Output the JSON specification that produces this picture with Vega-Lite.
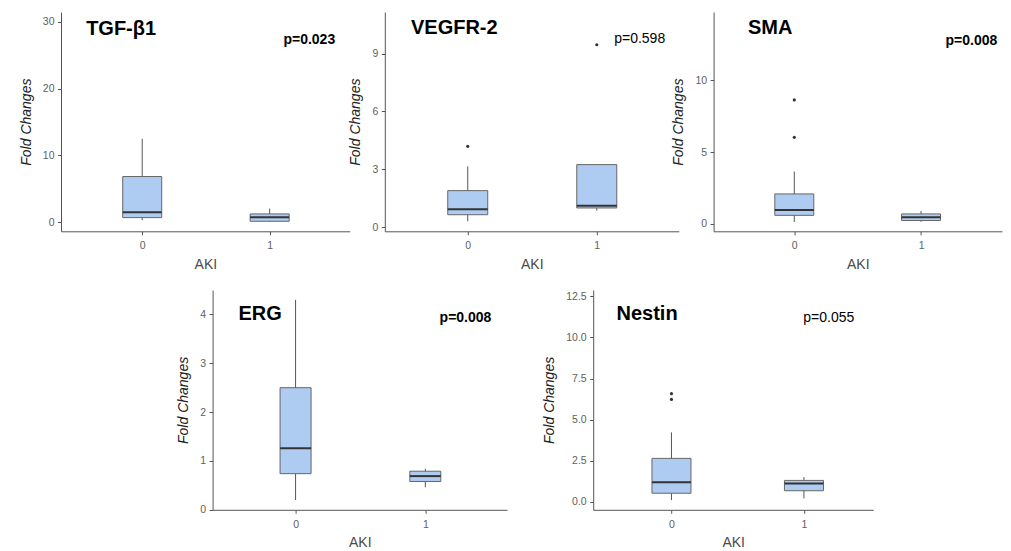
{
  "$schema": "https://vega.github.io/schema/vega-lite/v6.json",
  "autosize": {"type": "pad"},
  "padding": {"left": 19, "top": 12, "right": 5, "bottom": 2},
  "background": "white",
  "spacing": 18,
  "datasets": {
    "stats": [
      {"gene": "TGF-β1", "AKI": 0, "lower": 0.3, "q1": 0.7, "median": 1.5, "q3": 6.85, "upper": 12.5},
      {"gene": "TGF-β1", "AKI": 1, "lower": 0.05, "q1": 0.15, "median": 0.75, "q3": 1.25, "upper": 2.05},
      {"gene": "VEGFR-2", "AKI": 0, "lower": 0.3, "q1": 0.64, "median": 0.92, "q3": 1.89, "upper": 3.15},
      {"gene": "VEGFR-2", "AKI": 1, "lower": 0.85, "q1": 0.99, "median": 1.11, "q3": 3.24, "upper": 3.24},
      {"gene": "SMA", "AKI": 0, "lower": 0.14, "q1": 0.6, "median": 0.97, "q3": 2.09, "upper": 3.65},
      {"gene": "SMA", "AKI": 1, "lower": 0.15, "q1": 0.24, "median": 0.47, "q3": 0.7, "upper": 0.9},
      {"gene": "ERG", "AKI": 0, "lower": 0.2, "q1": 0.74, "median": 1.26, "q3": 2.5, "upper": 4.3},
      {"gene": "ERG", "AKI": 1, "lower": 0.46, "q1": 0.58, "median": 0.69, "q3": 0.79, "upper": 0.84},
      {"gene": "Nestin", "AKI": 0, "lower": 0.1, "q1": 0.52, "median": 1.19, "q3": 2.64, "upper": 4.22},
      {"gene": "Nestin", "AKI": 1, "lower": 0.2, "q1": 0.67, "median": 1.11, "q3": 1.3, "upper": 1.5}
    ],
    "outliers": [
      {"gene": "VEGFR-2", "AKI": 0, "value": 4.19},
      {"gene": "VEGFR-2", "AKI": 1, "value": 9.46},
      {"gene": "SMA", "AKI": 0, "value": 6.03},
      {"gene": "SMA", "AKI": 0, "value": 8.63},
      {"gene": "Nestin", "AKI": 0, "value": 6.23},
      {"gene": "Nestin", "AKI": 0, "value": 6.58}
    ],
    "labels": [
      {"gene": "TGF-β1", "p": "p=0.023"},
      {"gene": "VEGFR-2", "p": "p=0.598"},
      {"gene": "SMA", "p": "p=0.008"},
      {"gene": "ERG", "p": "p=0.008"},
      {"gene": "Nestin", "p": "p=0.055"}
    ]
  },
  "config": {
    "view": {"stroke": null},
    "font": "Liberation Sans",
    "axis": {
      "grid": false,
      "domainColor": "#555555",
      "tickColor": "#555555",
      "tickSize": 3.5,
      "labelFont": "Liberation Sans",
      "labelFontSize": 10.5,
      "labelColor": "#606060",
      "titleFont": "Liberation Sans",
      "titleFontSize": 14,
      "titleFontWeight": "normal"
    },
    "axisY": {"titleFontStyle": "italic", "titleColor": "#222222", "titlePadding": 9, "labelPadding": 3.5},
    "axisX": {"titleColor": "#4a4a4a", "titlePadding": 6, "labelPadding": 6}
  },
  "vconcat": [
    {
      "bounds": "flush",
      "spacing": 34.8,
      "hconcat": [
        {
          "width": 288.7, "height": 219.3,
          "layer": [
            {"data": {"name": "stats"}, "transform": [{"filter": "datum.gene === 'TGF-β1'"}],
             "mark": {"type": "rule", "color": "#555555"},
             "encoding": {
               "x": {"field": "AKI", "type": "quantitative", "scale": {"domain": [-0.598, 1.589], "nice": false, "zero": false}, "axis": {"values": [0, 1], "format": "d", "title": "AKI"}},
               "y": {"field": "lower", "type": "quantitative", "scale": {"domain": [-1.35, 31.48], "nice": false, "zero": false}, "axis": {"values": [0, 10, 20, 30], "title": "Fold Changes"}},
               "y2": {"field": "upper"}}},
            {"data": {"name": "stats"}, "transform": [{"filter": "datum.gene === 'TGF-β1'"}],
             "mark": {"type": "bar", "width": 39, "fill": "#aecbf2", "stroke": "#666666", "strokeWidth": 1},
             "encoding": {"x": {"field": "AKI", "type": "quantitative"}, "y": {"field": "q1", "type": "quantitative"}, "y2": {"field": "q3"}}},
            {"data": {"name": "stats"}, "transform": [{"filter": "datum.gene === 'TGF-β1'"}],
             "mark": {"type": "tick", "orient": "horizontal", "size": 39, "thickness": 2, "color": "#333333", "opacity": 1},
             "encoding": {"x": {"field": "AKI", "type": "quantitative"}, "y": {"field": "median", "type": "quantitative"}}},
            {"data": {"name": "labels"}, "transform": [{"filter": "datum.gene === 'TGF-β1'"}],
             "mark": {"type": "text", "align": "left", "baseline": "alphabetic", "fontSize": 20, "fontWeight": "bold", "color": "black"},
             "encoding": {"x": {"datum": -0.44}, "y": {"datum": 28.1}, "text": {"field": "gene"}}},
            {"data": {"name": "labels"}, "transform": [{"filter": "datum.gene === 'TGF-β1'"}],
             "mark": {"type": "text", "align": "left", "baseline": "alphabetic", "fontSize": 14, "fontWeight": "bold", "color": "black"},
             "encoding": {"x": {"datum": 1.108}, "y": {"datum": 26.65}, "text": {"field": "p"}}}
          ]
        },
        {
          "width": 294, "height": 219.3,
          "layer": [
            {"data": {"name": "stats"}, "transform": [{"filter": "datum.gene === 'VEGFR-2'"}],
             "mark": {"type": "rule", "color": "#555555"},
             "encoding": {
               "x": {"field": "AKI", "type": "quantitative", "scale": {"domain": [-0.604, 1.597], "nice": false, "zero": false}, "axis": {"values": [0, 1], "format": "d", "title": "AKI"}},
               "y": {"field": "lower", "type": "quantitative", "scale": {"domain": [-0.22, 11.16], "nice": false, "zero": false}, "axis": {"values": [0, 3, 6, 9], "title": "Fold Changes"}},
               "y2": {"field": "upper"}}},
            {"data": {"name": "stats"}, "transform": [{"filter": "datum.gene === 'VEGFR-2'"}],
             "mark": {"type": "bar", "width": 40, "fill": "#aecbf2", "stroke": "#666666", "strokeWidth": 1},
             "encoding": {"x": {"field": "AKI", "type": "quantitative"}, "y": {"field": "q1", "type": "quantitative"}, "y2": {"field": "q3"}}},
            {"data": {"name": "stats"}, "transform": [{"filter": "datum.gene === 'VEGFR-2'"}],
             "mark": {"type": "tick", "orient": "horizontal", "size": 40, "thickness": 2, "color": "#333333", "opacity": 1},
             "encoding": {"x": {"field": "AKI", "type": "quantitative"}, "y": {"field": "median", "type": "quantitative"}}},
            {"data": {"name": "outliers"}, "transform": [{"filter": "datum.gene === 'VEGFR-2'"}],
             "mark": {"type": "circle", "size": 10, "color": "#333333", "opacity": 1},
             "encoding": {"x": {"field": "AKI", "type": "quantitative"}, "y": {"field": "value", "type": "quantitative"}}},
            {"data": {"name": "labels"}, "transform": [{"filter": "datum.gene === 'VEGFR-2'"}],
             "mark": {"type": "text", "align": "left", "baseline": "alphabetic", "fontSize": 20, "fontWeight": "bold", "color": "black"},
             "encoding": {"x": {"datum": -0.44}, "y": {"datum": 10.0}, "text": {"field": "gene"}}},
            {"data": {"name": "labels"}, "transform": [{"filter": "datum.gene === 'VEGFR-2'"}],
             "mark": {"type": "text", "align": "left", "baseline": "alphabetic", "fontSize": 14, "fontWeight": "normal", "color": "black"},
             "encoding": {"x": {"datum": 1.135}, "y": {"datum": 9.53}, "text": {"field": "p"}}}
          ]
        },
        {
          "width": 288.4, "height": 219.3,
          "layer": [
            {"data": {"name": "stats"}, "transform": [{"filter": "datum.gene === 'SMA'"}],
             "mark": {"type": "rule", "color": "#555555"},
             "encoding": {
               "x": {"field": "AKI", "type": "quantitative", "scale": {"domain": [-0.597, 1.599], "nice": false, "zero": false}, "axis": {"values": [0, 1], "format": "d", "title": "AKI"}},
               "y": {"field": "lower", "type": "quantitative", "scale": {"domain": [-0.51, 14.75], "nice": false, "zero": false}, "axis": {"values": [0, 5, 10], "title": "Fold Changes"}},
               "y2": {"field": "upper"}}},
            {"data": {"name": "stats"}, "transform": [{"filter": "datum.gene === 'SMA'"}],
             "mark": {"type": "bar", "width": 39, "fill": "#aecbf2", "stroke": "#666666", "strokeWidth": 1},
             "encoding": {"x": {"field": "AKI", "type": "quantitative"}, "y": {"field": "q1", "type": "quantitative"}, "y2": {"field": "q3"}}},
            {"data": {"name": "stats"}, "transform": [{"filter": "datum.gene === 'SMA'"}],
             "mark": {"type": "tick", "orient": "horizontal", "size": 39, "thickness": 2, "color": "#333333", "opacity": 1},
             "encoding": {"x": {"field": "AKI", "type": "quantitative"}, "y": {"field": "median", "type": "quantitative"}}},
            {"data": {"name": "outliers"}, "transform": [{"filter": "datum.gene === 'SMA'"}],
             "mark": {"type": "circle", "size": 10, "color": "#333333", "opacity": 1},
             "encoding": {"x": {"field": "AKI", "type": "quantitative"}, "y": {"field": "value", "type": "quantitative"}}},
            {"data": {"name": "labels"}, "transform": [{"filter": "datum.gene === 'SMA'"}],
             "mark": {"type": "text", "align": "left", "baseline": "alphabetic", "fontSize": 20, "fontWeight": "bold", "color": "black"},
             "encoding": {"x": {"datum": -0.365}, "y": {"datum": 13.2}, "text": {"field": "gene"}}},
            {"data": {"name": "labels"}, "transform": [{"filter": "datum.gene === 'SMA'"}],
             "mark": {"type": "text", "align": "left", "baseline": "alphabetic", "fontSize": 14, "fontWeight": "bold", "color": "black"},
             "encoding": {"x": {"datum": 1.193}, "y": {"datum": 12.48}, "text": {"field": "p"}}}
          ]
        }
      ]
    },
    {
      "bounds": "flush",
      "spacing": 85.6,
      "hconcat": [
        {
          "width": 65.7, "height": 219.8,
          "data": {"name": "labels"},
          "mark": {"type": "point", "opacity": 0},
          "encoding": {}
        },
        {
          "width": 294.4, "height": 219.8,
          "layer": [
            {"data": {"name": "stats"}, "transform": [{"filter": "datum.gene === 'ERG'"}],
             "mark": {"type": "rule", "color": "#555555"},
             "encoding": {
               "x": {"field": "AKI", "type": "quantitative", "scale": {"domain": [-0.601, 1.591], "nice": false, "zero": false}, "axis": {"values": [0, 1], "format": "d", "title": "AKI"}},
               "y": {"field": "lower", "type": "quantitative", "scale": {"domain": [0, 4.5], "nice": false, "zero": false}, "axis": {"values": [0, 1, 2, 3, 4], "title": "Fold Changes"}},
               "y2": {"field": "upper"}}},
            {"data": {"name": "stats"}, "transform": [{"filter": "datum.gene === 'ERG'"}],
             "mark": {"type": "bar", "width": 31, "fill": "#aecbf2", "stroke": "#666666", "strokeWidth": 1},
             "encoding": {"x": {"field": "AKI", "type": "quantitative"}, "y": {"field": "q1", "type": "quantitative"}, "y2": {"field": "q3"}}},
            {"data": {"name": "stats"}, "transform": [{"filter": "datum.gene === 'ERG'"}],
             "mark": {"type": "tick", "orient": "horizontal", "size": 31, "thickness": 2, "color": "#333333", "opacity": 1},
             "encoding": {"x": {"field": "AKI", "type": "quantitative"}, "y": {"field": "median", "type": "quantitative"}}},
            {"data": {"name": "labels"}, "transform": [{"filter": "datum.gene === 'ERG'"}],
             "mark": {"type": "text", "align": "left", "baseline": "alphabetic", "fontSize": 20, "fontWeight": "bold", "color": "black"},
             "encoding": {"x": {"datum": -0.44}, "y": {"datum": 3.89}, "text": {"field": "gene"}}},
            {"data": {"name": "labels"}, "transform": [{"filter": "datum.gene === 'ERG'"}],
             "mark": {"type": "text", "align": "left", "baseline": "alphabetic", "fontSize": 14, "fontWeight": "bold", "color": "black"},
             "encoding": {"x": {"datum": 1.11}, "y": {"datum": 3.84}, "text": {"field": "p"}}}
          ]
        },
        {
          "width": 280, "height": 219.8,
          "layer": [
            {"data": {"name": "stats"}, "transform": [{"filter": "datum.gene === 'Nestin'"}],
             "mark": {"type": "rule", "color": "#555555"},
             "encoding": {
               "x": {"field": "AKI", "type": "quantitative", "scale": {"domain": [-0.553, 1.485], "nice": false, "zero": false}, "axis": {"values": [0, 1], "format": "d", "title": "AKI"}},
               "y": {"field": "lower", "type": "quantitative", "scale": {"domain": [-0.49, 12.89], "nice": false, "zero": false}, "axis": {"values": [0, 2.5, 5, 7.5, 10, 12.5], "format": ".1f", "title": "Fold Changes"}},
               "y2": {"field": "upper"}}},
            {"data": {"name": "stats"}, "transform": [{"filter": "datum.gene === 'Nestin'"}],
             "mark": {"type": "bar", "width": 39, "fill": "#aecbf2", "stroke": "#666666", "strokeWidth": 1},
             "encoding": {"x": {"field": "AKI", "type": "quantitative"}, "y": {"field": "q1", "type": "quantitative"}, "y2": {"field": "q3"}}},
            {"data": {"name": "stats"}, "transform": [{"filter": "datum.gene === 'Nestin'"}],
             "mark": {"type": "tick", "orient": "horizontal", "size": 39, "thickness": 2, "color": "#333333", "opacity": 1},
             "encoding": {"x": {"field": "AKI", "type": "quantitative"}, "y": {"field": "median", "type": "quantitative"}}},
            {"data": {"name": "outliers"}, "transform": [{"filter": "datum.gene === 'Nestin'"}],
             "mark": {"type": "circle", "size": 10, "color": "#333333", "opacity": 1},
             "encoding": {"x": {"field": "AKI", "type": "quantitative"}, "y": {"field": "value", "type": "quantitative"}}},
            {"data": {"name": "labels"}, "transform": [{"filter": "datum.gene === 'Nestin'"}],
             "mark": {"type": "text", "align": "left", "baseline": "alphabetic", "fontSize": 20, "fontWeight": "bold", "color": "black"},
             "encoding": {"x": {"datum": -0.415}, "y": {"datum": 11.08}, "text": {"field": "gene"}}},
            {"data": {"name": "labels"}, "transform": [{"filter": "datum.gene === 'Nestin'"}],
             "mark": {"type": "text", "align": "left", "baseline": "alphabetic", "fontSize": 14, "fontWeight": "normal", "color": "black"},
             "encoding": {"x": {"datum": 0.995}, "y": {"datum": 10.92}, "text": {"field": "p"}}}
          ]
        }
      ]
    }
  ]
}
